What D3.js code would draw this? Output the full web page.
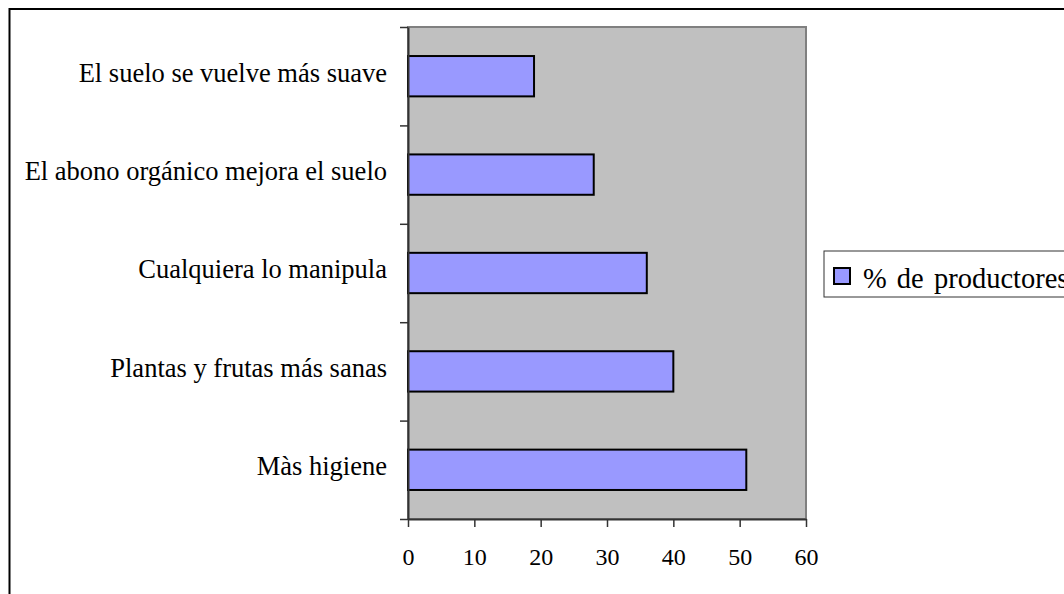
<!DOCTYPE html>
<html>
<head>
<meta charset="utf-8">
<script src="https://cdn.jsdelivr.net/npm/d3@7"></script>
<style>
  body { margin: 0; background: #fff; }
  svg { display: block; font-family: "Liberation Serif", "Times New Roman", serif; }
</style>
</head>
<body>
<div id="chart"></div>
<script>
const categories = [
  'El suelo se vuelve más suave',
  'El abono orgánico mejora el suelo',
  'Cualquiera lo manipula',
  'Plantas y frutas más sanas',
  'Màs higiene'
];
const values = [19, 28, 36, 40, 51];
const xTicks = [0, 10, 20, 30, 40, 50, 60];
const seriesName = '% de productores';

const width = 1064;
const height = 594;
const plot = { left: 408, top: 27, right: 806, bottom: 519 };

const svg = d3.select('#chart').append('svg')
  .attr('width', width)
  .attr('height', height);

// outer chart border
svg.append('rect')
  .attr('x', 9.5)
  .attr('y', 9)
  .attr('width', width + 20)
  .attr('height', height + 20)
  .style('fill', '#fff')
  .style('stroke', '#000')
  .style('stroke-width', 2);

const xScale = d3.scaleLinear()
  .domain([0, 60])
  .range([plot.left, plot.right]);

const yScale = d3.scaleBand()
  .domain(categories)
  .range([plot.top, plot.bottom])
  .paddingInner(0.59)
  .paddingOuter(0.295);

const yEdges = d3.scaleLinear()
  .domain([0, categories.length])
  .range([plot.top, plot.bottom]);

// plot area
svg.append('rect')
  .attr('x', plot.left)
  .attr('y', plot.top)
  .attr('width', plot.right - plot.left)
  .attr('height', plot.bottom - plot.top)
  .style('fill', '#c0c0c0')
  .style('stroke', '#808080')
  .style('stroke-width', 2);

// bars
svg.append('g')
  .selectAll('rect')
  .data(categories)
  .join('rect')
  .attr('x', xScale(0))
  .attr('y', (d) => yScale(d))
  .attr('width', (d, i) => xScale(values[i]) - xScale(0))
  .attr('height', yScale.bandwidth())
  .style('fill', '#9999ff')
  .style('stroke', '#000')
  .style('stroke-width', 2);

// y axis (ticks at category edges)
const yAxis = d3.axisLeft(yEdges)
  .tickValues(d3.range(categories.length + 1))
  .tickFormat('')
  .tickSizeInner(8)
  .tickSizeOuter(0);

const yAxisG = svg.append('g')
  .attr('transform', `translate(${plot.left},0)`)
  .call(yAxis);
yAxisG.select('.domain').style('stroke', '#333').style('stroke-width', 2);
yAxisG.selectAll('.tick line').style('stroke', '#333').style('stroke-width', 1.5);

// category labels
svg.append('g')
  .selectAll('text')
  .data(categories)
  .join('text')
  .attr('x', 387)
  .attr('y', (d) => yScale(d) + yScale.bandwidth() / 2)
  .attr('dy', '0.2em')
  .attr('text-anchor', 'end')
  .style('font-size', '26.5px')
  .style('fill', '#000')
  .text((d) => d);

// x axis
const xAxis = d3.axisBottom(xScale)
  .tickValues(xTicks)
  .tickSizeInner(8)
  .tickSizeOuter(0)
  .tickPadding(21);

const xAxisG = svg.append('g')
  .attr('transform', `translate(0,${plot.bottom})`)
  .call(xAxis);
xAxisG.select('.domain').style('stroke', '#333').style('stroke-width', 2);
xAxisG.selectAll('.tick line').style('stroke', '#333').style('stroke-width', 1.5);
xAxisG.selectAll('.tick text')
  .style('font-size', '24px')
  .style('font-family', '"Liberation Serif", "Times New Roman", serif')
  .style('fill', '#000');

// legend
const legend = svg.append('g');
legend.append('rect')
  .attr('x', 824)
  .attr('y', 251)
  .attr('width', 260)
  .attr('height', 46)
  .style('fill', '#fff')
  .style('stroke', '#333')
  .style('stroke-width', 1);
legend.append('rect')
  .attr('x', 834)
  .attr('y', 268)
  .attr('width', 16)
  .attr('height', 16)
  .style('fill', '#9999ff')
  .style('stroke', '#000')
  .style('stroke-width', 2);
legend.append('text')
  .attr('x', 863)
  .attr('y', 288)
  .style('font-size', '28.5px')
  .style('word-spacing', '3px')
  .style('fill', '#000')
  .text(seriesName);
</script>
</body>
</html>
